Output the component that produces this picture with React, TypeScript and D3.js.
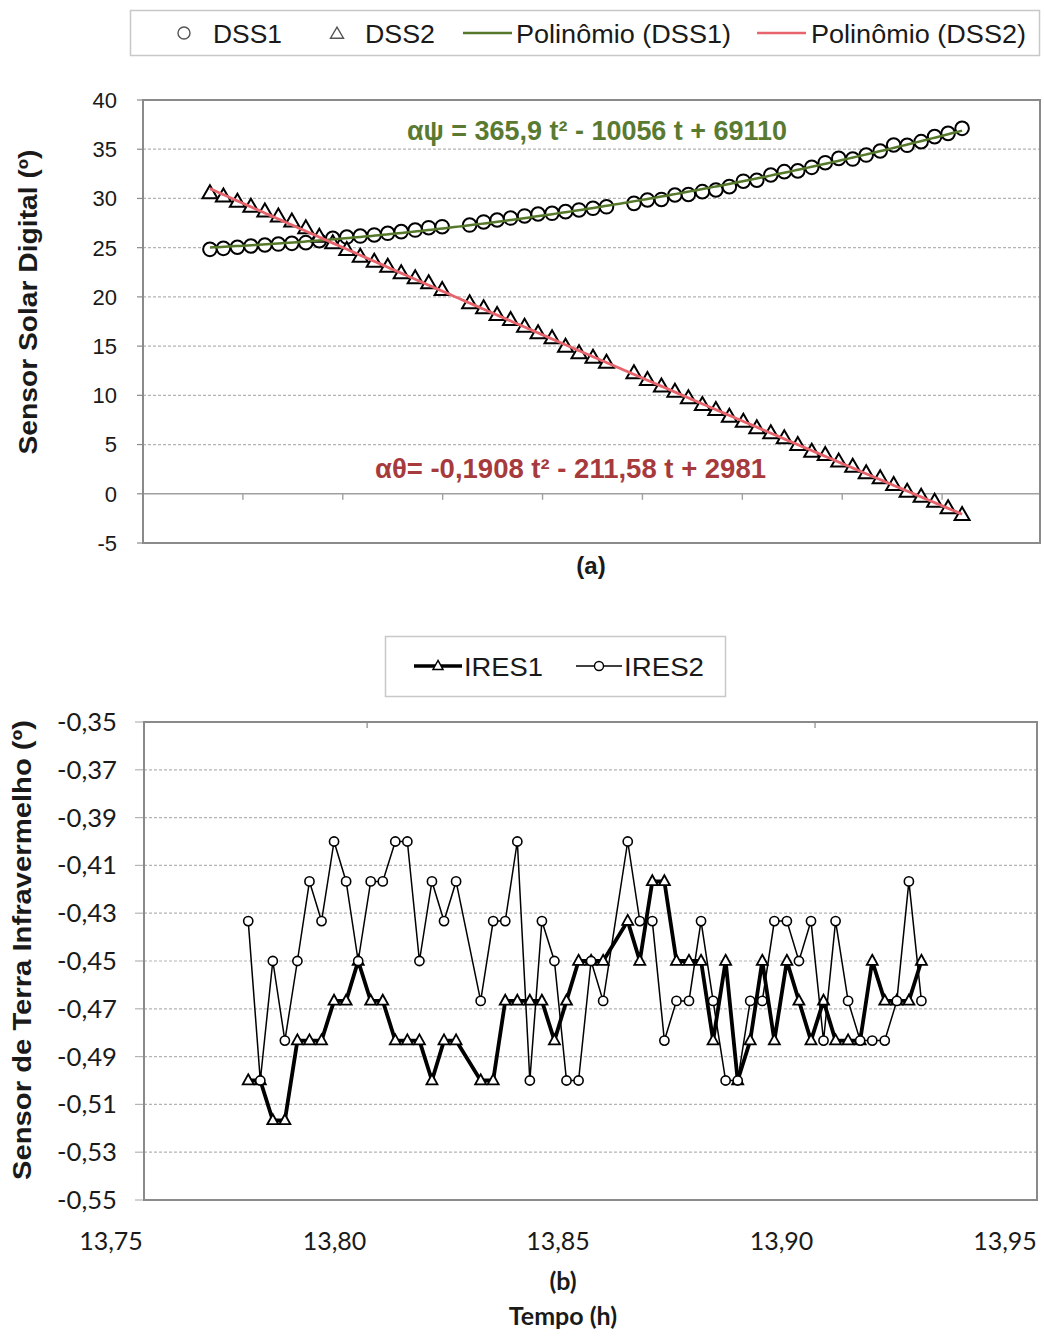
import React from 'react';
import * as d3 from 'd3';

// ---------- DATA ----------
const times = [
  13.7807, 13.7834, 13.7862, 13.7889, 13.7917, 13.7944, 13.7971, 13.7999, 13.8026, 13.8053,
  13.8081, 13.8108, 13.8136, 13.8163, 13.8190, 13.8218, 13.8245, 13.8272,
  13.8327, 13.8355, 13.8382, 13.8409, 13.8437, 13.8464, 13.8492, 13.8519, 13.8546, 13.8574, 13.8601,
  13.8656, 13.8683, 13.8711, 13.8738, 13.8765, 13.8793, 13.8820, 13.8847, 13.8875, 13.8902,
  13.8930, 13.8957, 13.8984, 13.9012, 13.9039, 13.9066, 13.9094, 13.9121, 13.9149, 13.9176,
  13.9203, 13.9231, 13.9258, 13.9285, 13.9313,
];

const dss1 = [
  24.83, 24.93, 25.04, 25.17, 25.27, 25.37, 25.44, 25.51, 25.71, 25.95,
  26.08, 26.18, 26.29, 26.46, 26.63, 26.79, 27.03, 27.13,
  27.3, 27.61, 27.81, 28.01, 28.22, 28.42, 28.49, 28.66, 28.83, 29.0, 29.15,
  29.5, 29.84, 29.9, 30.35, 30.4, 30.69, 30.86, 31.2, 31.75, 31.85,
  32.38, 32.72, 32.8, 33.16, 33.63, 34.07, 34.0, 34.41, 34.82, 35.43,
  35.4, 35.77, 36.28, 36.61, 37.12,
];

const dss2 = [
  30.52, 30.18, 29.67, 29.16, 28.66, 28.15, 27.64, 26.96, 26.11, 25.44,
  24.76, 24.08, 23.57, 23.06, 22.39, 21.88, 21.38, 20.7,
  19.35, 18.84, 18.16, 17.65, 16.97, 16.3, 15.79, 14.94, 14.27, 13.8, 13.3,
  12.23, 11.56, 10.88, 10.37, 9.7, 9.02, 8.51, 7.83, 7.32, 6.65,
  6.14, 5.63, 4.95, 4.27, 3.94, 3.26, 2.75, 2.07, 1.57, 0.89,
  0.21, -0.3, -0.81, -1.48, -2.17,
];

const ires1 = [
  -0.5, -0.5, -0.5167, -0.5167, -0.4833, -0.4833, -0.4833, -0.4667, -0.4667, -0.45,
  -0.4667, -0.4667, -0.4833, -0.4833, -0.4833, -0.5, -0.4833, -0.4833,
  -0.5, -0.5, -0.4667, -0.4667, -0.4667, -0.4667, -0.4833, -0.4667, -0.45, -0.45, -0.45,
  -0.4333, -0.45, -0.4167, -0.4167, -0.45, -0.45, -0.45, -0.4833, -0.45, -0.5,
  -0.4833, -0.45, -0.4833, -0.45, -0.4667, -0.4833, -0.4667, -0.4833, -0.4833, -0.4833,
  -0.45, -0.4667, -0.4667, -0.4667, -0.45,
];

const ires2 = [
  -0.4333, -0.5, -0.45, -0.4833, -0.45, -0.4167, -0.4333, -0.4, -0.4167, -0.45,
  -0.4167, -0.4167, -0.4, -0.4, -0.45, -0.4167, -0.4333, -0.4167,
  -0.4667, -0.4333, -0.4333, -0.4, -0.5, -0.4333, -0.45, -0.5, -0.5, -0.45, -0.4667,
  -0.4, -0.4333, -0.4333, -0.4833, -0.4667, -0.4667, -0.4333, -0.4667, -0.5, -0.5,
  -0.4667, -0.4667, -0.4333, -0.4333, -0.45, -0.4333, -0.4833, -0.4333, -0.4667, -0.4833,
  -0.4833, -0.4833, -0.4667, -0.4167, -0.4667,
];

const topYTicks = [40, 35, 30, 25, 20, 15, 10, 5, 0, -5];
const botYTicks = [-0.35, -0.37, -0.39, -0.41, -0.43, -0.45, -0.47, -0.49, -0.51, -0.53, -0.55];
const botXTicks = [13.75, 13.8, 13.85, 13.9, 13.95];
const botTopAxisTicks = [13.8073, 13.9075];
const topLegendLabels = ['DSS1', 'DSS2', 'Polinômio (DSS1)', 'Polinômio (DSS2)'];
const botLegendLabels = ['IRES1', 'IRES2'];
const eqDss1 = 'αψ = 365,9 t² - 10056 t + 69110';
const eqDss2 = 'αθ= -0,1908 t² - 211,58 t + 2981';
const topYTitle = 'Sensor Solar Digital (º)';
const botYTitle = 'Sensor de Terra Infravermelho (º)';
const panelA = '(a)';
const panelB = '(b)';
const xTitle = 'Tempo (h)';

// ---------- HELPERS ----------
const locale = d3.formatLocale({ decimal: ',', thousands: '.', grouping: [3], currency: ['', ''], minus: '-' });
const fmtInt = locale.format('d');
const fmt2 = locale.format('.2f');

function quadFit(xs: number[], ys: number[]) {
  const m = d3.mean(xs) as number;
  const S = [0, 0, 0, 0, 0];
  const T = [0, 0, 0];
  xs.forEach((x, i) => {
    const u = x - m;
    let p = 1;
    for (let k = 0; k < 5; k++) { S[k] += p; if (k < 3) T[k] += p * ys[i]; p *= u; }
  });
  const A = [
    [S[0], S[1], S[2], T[0]],
    [S[1], S[2], S[3], T[1]],
    [S[2], S[3], S[4], T[2]],
  ];
  for (let i = 0; i < 3; i++) {
    for (let j = i + 1; j < 3; j++) {
      const f = A[j][i] / A[i][i];
      for (let k = i; k < 4; k++) A[j][k] -= f * A[i][k];
    }
  }
  const c = [0, 0, 0];
  for (let i = 2; i >= 0; i--) {
    let s = A[i][3];
    for (let k = i + 1; k < 3; k++) s -= A[i][k] * c[k];
    c[i] = s / A[i][i];
  }
  return (x: number) => c[0] + c[1] * (x - m) + c[2] * (x - m) * (x - m);
}

const triPath = (w: number, h: number) => `M0,${-h * 0.62}L${w / 2},${h * 0.38}L${-w / 2},${h * 0.38}Z`;

const ARIAL = '"Liberation Sans", Arial, sans-serif';
const CAL = 'Lato, "Open Sans", sans-serif';
const FRAME = '#8a8a8a';
const GRID = '#b4b4b4';
const GREEN = '#55782a';
const RED = '#e8646c';
const EQ_GREEN = '#5a7a32';
const EQ_RED = '#a63a3c';

export default function App() {
  // ----- top chart scales -----
  const tx = d3.scaleLinear().domain([13.7673, 13.9469]).range([143, 1040]);
  const ty = d3.scaleLinear().domain([-5, 40]).range([543, 100]);
  const topXTicks = d3.range(13.7673, 13.9469, 0.02);

  const fit1 = quadFit(times, dss1);
  const fit2 = quadFit(times, dss2);
  const tFine = d3.range(0, 201).map((i) => times[0] + (times[times.length - 1] - times[0]) * i / 200);
  const path1 = d3.line<number>().x((t) => tx(t)).y((t) => ty(fit1(t)))(tFine) as string;
  const path2 = d3.line<number>().x((t) => tx(t)).y((t) => ty(fit2(t)))(tFine) as string;

  // ----- bottom chart scales -----
  const bx = d3.scaleLinear().domain([13.75, 13.95]).range([111, 1005]);
  const by = d3.scaleLinear().domain([-0.55, -0.35]).range([1200, 722]);
  const pathI1 = d3.line<number>().x((_, i) => bx(times[i])).y((v) => by(v))(ires1) as string;
  const pathI2 = d3.line<number>().x((_, i) => bx(times[i])).y((v) => by(v))(ires2) as string;

  const bFrameL = 144, bFrameR = 1037;

  return (
    <svg width={1044} height={1336} style={{ position: 'absolute', left: 0, top: 0, background: '#fff' }}>
      <rect x={0} y={0} width={1044} height={1336} fill="#fff" />

      {/* ================= TOP CHART ================= */}
      <g>
        <rect x={130.5} y={10.5} width={909} height={45} fill="#fff" stroke="#c8c8c8" strokeWidth={1.5} />
        <circle cx={184} cy={33} r={6} fill="#fff" stroke="#555" strokeWidth={1.4} />
        <text x={213} y={43} fontFamily={ARIAL} fontSize={26} fill="#1a1a1a" textLength={69} lengthAdjust="spacingAndGlyphs">{topLegendLabels[0]}</text>
        <path d={triPath(13, 11)} transform="translate(337,34)" fill="#fff" stroke="#555" strokeWidth={1.4} />
        <text x={365} y={43} fontFamily={ARIAL} fontSize={26} fill="#1a1a1a" textLength={70} lengthAdjust="spacingAndGlyphs">{topLegendLabels[1]}</text>
        <line x1={463} x2={512} y1={33} y2={33} stroke={GREEN} strokeWidth={2.5} />
        <text x={516} y={43} fontFamily={ARIAL} fontSize={26} fill="#1a1a1a" textLength={215} lengthAdjust="spacingAndGlyphs">{topLegendLabels[2]}</text>
        <line x1={757} x2={806} y1={33} y2={33} stroke={RED} strokeWidth={2.5} />
        <text x={811} y={43} fontFamily={ARIAL} fontSize={26} fill="#1a1a1a" textLength={215} lengthAdjust="spacingAndGlyphs">{topLegendLabels[3]}</text>
      </g>

      {topYTicks.map((v) => (
        <g key={'tg' + v}>
          {v !== 40 && v !== -5 && v !== 0 && (
            <line x1={143} x2={1040} y1={ty(v)} y2={ty(v)} stroke={GRID} strokeWidth={1.2} strokeDasharray="3,2" />
          )}
          <line x1={137} x2={143} y1={ty(v)} y2={ty(v)} stroke={FRAME} strokeWidth={1.2} />
          <text x={117} y={ty(v)} dy="0.36em" textAnchor="end" fontFamily={ARIAL} fontSize={22} fill="#1a1a1a">{fmtInt(v)}</text>
        </g>
      ))}
      <line x1={143} x2={1040} y1={ty(0)} y2={ty(0)} stroke="#a0a0a0" strokeWidth={1.6} />
      {topXTicks.map((t) => (
        <line key={'tx' + t} x1={tx(t)} x2={tx(t)} y1={ty(0)} y2={ty(0) + 6} stroke="#a0a0a0" strokeWidth={1.4} />
      ))}
      <rect x={143} y={100} width={897} height={443} fill="none" stroke={FRAME} strokeWidth={2} />

      {dss1.map((v, i) => (
        <circle key={'c' + i} cx={tx(times[i])} cy={ty(v)} r={6.8} fill="#fff" stroke="#000" strokeWidth={2} />
      ))}
      {dss2.map((v, i) => (
        <path key={'t' + i} d={triPath(15, 13)} transform={`translate(${tx(times[i])},${ty(v)})`} fill="#fff" stroke="#000" strokeWidth={2} strokeLinejoin="miter" />
      ))}
      <path d={path1} fill="none" stroke={GREEN} strokeWidth={2.5} />
      <path d={path2} fill="none" stroke={RED} strokeWidth={2.8} />

      <text x={407} y={140} fontFamily={ARIAL} fontWeight="bold" fontSize={27} fill={EQ_GREEN} textLength={380} lengthAdjust="spacingAndGlyphs">{eqDss1}</text>
      <text x={375} y={478} fontFamily={ARIAL} fontWeight="bold" fontSize={27} fill={EQ_RED} textLength={391} lengthAdjust="spacingAndGlyphs">{eqDss2}</text>

      <text transform="translate(37,302) rotate(-90)" textAnchor="middle" fontFamily={ARIAL} fontWeight="bold" fontSize={26} fill="#1a1a1a" textLength={305} lengthAdjust="spacingAndGlyphs">{topYTitle}</text>
      <text x={591} y={574} textAnchor="middle" fontFamily={ARIAL} fontWeight="bold" fontSize={24} fill="#1a1a1a">{panelA}</text>

      {/* ================= BOTTOM CHART ================= */}
      <g>
        <rect x={385.5} y={636.5} width={340} height={60} fill="#fff" stroke="#c8c8c8" strokeWidth={1.5} />
        <line x1={414} x2={462} y1={666} y2={666} stroke="#000" strokeWidth={3.5} />
        <path d={triPath(10, 9)} transform="translate(438,666)" fill="#fff" stroke="#000" strokeWidth={1.5} />
        <text x={464} y={676} fontFamily={ARIAL} fontSize={26} fill="#1a1a1a" textLength={79} lengthAdjust="spacingAndGlyphs">{botLegendLabels[0]}</text>
        <line x1={576} x2={622} y1={666} y2={666} stroke="#000" strokeWidth={1.5} />
        <circle cx={599} cy={666} r={4.5} fill="#fff" stroke="#000" strokeWidth={1.4} />
        <text x={624} y={676} fontFamily={ARIAL} fontSize={26} fill="#1a1a1a" textLength={80} lengthAdjust="spacingAndGlyphs">{botLegendLabels[1]}</text>
      </g>

      {botYTicks.map((v) => (
        <g key={'bg' + v}>
          {v !== -0.35 && v !== -0.55 && (
            <line x1={bFrameL} x2={bFrameR} y1={by(v)} y2={by(v)} stroke={GRID} strokeWidth={1.2} strokeDasharray="3,2" />
          )}
          <line x1={135} x2={bFrameL} y1={by(v)} y2={by(v)} stroke={GRID} strokeWidth={1.2} />
          <text x={117} y={by(v)} dy="0.36em" textAnchor="end" fontFamily={CAL} fontSize={25} fill="#1a1a1a" textLength={60} lengthAdjust="spacingAndGlyphs">{fmt2(v)}</text>
        </g>
      ))}
      {botXTicks.map((t) => (
        <text key={'bx' + t} x={bx(t)} y={1250} textAnchor="middle" fontFamily={CAL} fontSize={25} fill="#1a1a1a">{fmt2(t)}</text>
      ))}
      {botTopAxisTicks.map((t) => (
        <line key={'bt' + t} x1={bx(t)} x2={bx(t)} y1={722} y2={728} stroke={FRAME} strokeWidth={1.2} />
      ))}
      <rect x={bFrameL} y={722} width={bFrameR - bFrameL} height={478} fill="none" stroke={FRAME} strokeWidth={2} />

      <path d={pathI1} fill="none" stroke="#000" strokeWidth={3.8} strokeLinejoin="round" />
      {ires1.map((v, i) => (
        <path key={'i1' + i} d={triPath(11, 10)} transform={`translate(${bx(times[i])},${by(v)})`} fill="#fff" stroke="#000" strokeWidth={1.8} />
      ))}
      <path d={pathI2} fill="none" stroke="#000" strokeWidth={1.5} />
      {ires2.map((v, i) => (
        <circle key={'i2' + i} cx={bx(times[i])} cy={by(v)} r={4.6} fill="#fff" stroke="#000" strokeWidth={1.6} />
      ))}

      <text transform="translate(31,950) rotate(-90)" textAnchor="middle" fontFamily={ARIAL} fontWeight="bold" fontSize={26} fill="#1a1a1a" textLength={460} lengthAdjust="spacingAndGlyphs">{botYTitle}</text>
      <text x={563} y={1290} textAnchor="middle" fontFamily={CAL} fontWeight="bold" fontSize={25} fill="#1a1a1a">{panelB}</text>
      <text x={563} y={1325} textAnchor="middle" fontFamily={CAL} fontWeight="bold" fontSize={25} fill="#1a1a1a">{xTitle}</text>
    </svg>
  );
}
